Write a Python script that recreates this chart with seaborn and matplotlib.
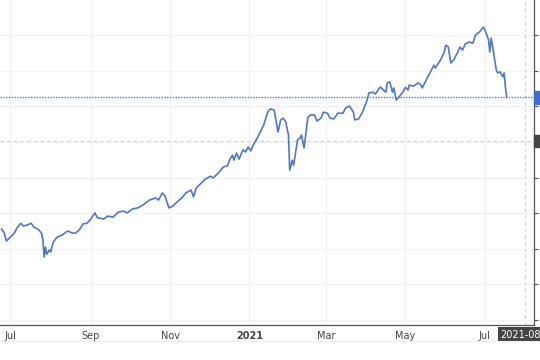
import matplotlib
matplotlib.use("Agg")
import matplotlib.pyplot as plt
import matplotlib.transforms as mtransforms
from matplotlib.patches import Rectangle
import pandas as pd
import seaborn as sns

# daily closes (approximate)
dates = [
    "2020-06-24", "2020-06-26", "2020-06-28", "2020-07-01", "2020-07-04", "2020-07-06", "2020-07-09",
    "2020-07-11", "2020-07-14", "2020-07-17", "2020-07-19", "2020-07-23", "2020-07-25", "2020-07-26",
    "2020-07-27", "2020-07-28", "2020-07-29", "2020-07-31", "2020-08-01", "2020-08-03", "2020-08-06",
    "2020-08-10", "2020-08-14", "2020-08-18", "2020-08-20", "2020-08-23", "2020-08-26", "2020-08-29",
    "2020-09-01", "2020-09-04", "2020-09-06", "2020-09-11", "2020-09-14", "2020-09-18", "2020-09-22",
    "2020-09-26", "2020-09-29",
    "2020-10-03", "2020-10-07", "2020-10-11", "2020-10-16", "2020-10-21", "2020-10-23", "2020-10-26",
    "2020-10-28", "2020-10-31",
    "2020-11-03", "2020-11-07", "2020-11-10", "2020-11-13", "2020-11-17", "2020-11-19", "2020-11-21",
    "2020-11-25", "2020-11-28",
    "2020-12-02", "2020-12-04", "2020-12-08", "2020-12-12", "2020-12-15", "2020-12-17", "2020-12-19",
    "2020-12-20", "2020-12-22", "2020-12-24", "2020-12-27", "2020-12-29", "2020-12-31",
    "2021-01-02", "2021-01-04", "2021-01-07", "2021-01-12", "2021-01-15", "2021-01-17", "2021-01-20",
    "2021-01-23", "2021-01-25", "2021-01-27", "2021-01-29", "2021-01-31",
    "2021-02-01", "2021-02-03", "2021-02-04", "2021-02-07", "2021-02-09", "2021-02-10", "2021-02-12",
    "2021-02-15", "2021-02-17", "2021-02-20", "2021-02-22", "2021-02-25", "2021-02-27",
    "2021-03-02", "2021-03-04", "2021-03-07", "2021-03-10", "2021-03-14", "2021-03-16", "2021-03-19",
    "2021-03-22", "2021-03-23", "2021-03-26", "2021-03-29",
    "2021-04-01", "2021-04-03", "2021-04-06", "2021-04-08", "2021-04-11", "2021-04-12", "2021-04-14",
    "2021-04-16", "2021-04-17", "2021-04-19", "2021-04-21", "2021-04-22", "2021-04-24", "2021-04-26",
    "2021-04-29",
    "2021-05-01", "2021-05-03", "2021-05-04", "2021-05-07", "2021-05-11", "2021-05-13", "2021-05-14",
    "2021-05-17", "2021-05-21", "2021-05-23", "2021-05-24", "2021-05-28", "2021-05-31",
    "2021-06-01", "2021-06-03", "2021-06-05", "2021-06-07", "2021-06-10", "2021-06-12", "2021-06-14",
    "2021-06-16", "2021-06-19", "2021-06-22", "2021-06-24", "2021-06-27", "2021-06-30",
    "2021-07-01", "2021-07-04", "2021-07-05", "2021-07-06", "2021-07-07", "2021-07-10", "2021-07-11",
    "2021-07-13", "2021-07-15", "2021-07-16", "2021-07-17", "2021-07-18",
]
close = [
    3256, 3247, 3222, 3233, 3244, 3258, 3272,
    3264, 3267, 3272, 3261, 3253, 3244, 3225,
    3177, 3205, 3185, 3197, 3191, 3219, 3233,
    3239, 3250, 3244, 3244, 3253, 3270, 3272,
    3284, 3301, 3287, 3284, 3292, 3289, 3303,
    3306, 3301,
    3312, 3315, 3323, 3337, 3343, 3337, 3357,
    3348, 3315,
    3320, 3334, 3343, 3357, 3365, 3346, 3371,
    3385, 3396,
    3404, 3399, 3413, 3430, 3433, 3452, 3463,
    3449, 3469, 3452, 3478, 3472, 3486,
    3475, 3492, 3511, 3548, 3584, 3593, 3590,
    3528, 3562, 3567, 3556, 3520,
    3421, 3449, 3435, 3506, 3511, 3520, 3483,
    3570, 3576, 3576, 3559, 3567, 3584,
    3581, 3567, 3565, 3581, 3581, 3596, 3601,
    3584, 3562, 3565, 3584,
    3612, 3638, 3640, 3635, 3652, 3654, 3646,
    3640, 3666, 3669, 3640, 3652, 3618, 3626,
    3640,
    3654, 3646, 3660, 3657, 3666, 3660, 3652,
    3674, 3702, 3716, 3708, 3730, 3753,
    3772, 3767, 3722, 3730, 3750, 3767, 3758,
    3775, 3781, 3778, 3801, 3809, 3823,
    3817, 3787, 3753, 3792, 3772, 3702, 3694,
    3697, 3683, 3694, 3654, 3626,
]
tick_dates = ["2020-07-01", "2020-09-01", "2020-11-01", "2021-01-01", "2021-03-01", "2021-05-01", "2021-07-01"]
tick_labels = ["Jul", "Sep", "Nov", "2021", "Mar", "May", "Jul"]
y_ticks = [3000, 3100, 3200, 3300, 3400, 3500, 3600, 3700, 3800]
cursor_date = "2021-08-01"
cursor_label = "2021-08"
cursor_value = 3503

df = pd.DataFrame({"date": pd.to_datetime(dates), "close": close})

sns.set_theme(style="white")
plt.rcParams["font.family"] = ["DejaVu Sans"]

line_col = "#5077c2"
fig = plt.figure(figsize=(5.4, 3.6), dpi=100)
ax = fig.add_axes([0, 0.0972, 534 / 540, 0.9028])

sns.lineplot(data=df, x="date", y="close", ax=ax, color=line_col, linewidth=1.2)

# last price line and crosshair
last = close[-1]
ax.axhline(last, color=line_col, lw=1.0, ls=(0, (1, 1)), zorder=3)
ax.axhline(cursor_value, color="#d2d2d2", lw=0.8, ls=(0, (3, 3)), zorder=1)
ax.axvline(pd.Timestamp(cursor_date), color="#d2d2d2", lw=0.8, ls=(0, (3, 3)), zorder=1)

ax.set_xlim(pd.Timestamp("2020-06-23"), pd.Timestamp("2021-08-08"))
ax.set_ylim(2986, 3899)

ax.set_xticks(pd.to_datetime(tick_dates))
ax.set_xticklabels(tick_labels)
for lab in ax.get_xticklabels():
    if lab.get_text() == "2021":
        lab.set_fontweight("semibold")
ax.set_yticks(y_ticks)
ax.yaxis.tick_right()
ax.set_yticklabels([])
ax.tick_params(axis="x", length=3, width=0.8, color="#555555", pad=1.5, labelsize=7, labelcolor="#444444")
ax.tick_params(axis="y", length=3, width=0.8, color="#555555", right=True, left=False)
ax.grid(True, color="#f2f2f2", lw=0.8)
ax.set_xlabel("")
ax.set_ylabel("")

for side in ["left", "top"]:
    ax.spines[side].set_visible(False)
for side in ["bottom", "right"]:
    ax.spines[side].set_color("#555555")
    ax.spines[side].set_linewidth(0.9)

# price tags on the right edge (cut off by the canvas)
trans = mtransforms.blended_transform_factory(ax.transAxes, ax.transData)
ax.add_patch(Rectangle((1.0, last - 18), 0.03, 36, transform=trans, color="#3f6fc6", clip_on=False, zorder=5))
ax.add_patch(Rectangle((1.0, cursor_value - 18), 0.03, 36, transform=trans, color="#444444", clip_on=False, zorder=5))

# date tag under the crosshair
ax.annotate(cursor_label, xy=(pd.Timestamp(cursor_date), 0), xycoords=("data", "axes fraction"),
            xytext=(-3, -7), textcoords="offset points", ha="center", va="center",
            fontsize=7, color="white", annotation_clip=False,
            bbox=dict(boxstyle="square,pad=0.25", fc="#444444", ec="none"))

fig.add_artist(plt.Line2D([0, 1], [1 - 341 / 360] * 2, color="#eeeeee", lw=0.8))

fig.savefig("out.png", dpi=100)
